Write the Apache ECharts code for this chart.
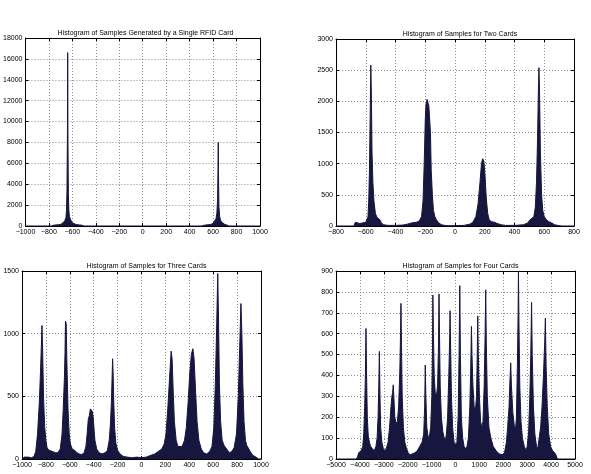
<!DOCTYPE html>
<html><head><meta charset="utf-8">
<script src="https://cdn.jsdelivr.net/npm/echarts/dist/echarts.min.js"></script>
<style>html,body{margin:0;padding:0;background:#fff}#c{width:591px;height:474px}</style>
</head><body><div id="c"></div>
<script>
// ---------- data ----------
const TITLES = [
  'Histogram of Samples Generated by a Single RFID Card',
  'Histogram of Samples for Two Cards',
  'Histogram of Samples for Three Cards',
  'Histogram of Samples for Four Cards'
];
const X_TICKS = [[-1000, 1000, 200], [-800, 800, 200], [-1000, 1000, 200], [-5000, 5000, 1000]];
const Y_TICKS = [[0, 18000, 2000], [0, 3000, 500], [0, 1500, 500], [0, 900, 100]];

const P1_X = [-1000,-780,-760,-720,-700,-680,-665,-655,-650,-646,-642,-640,-638,-634,-630,-625,-615,-600,-590,-570,-540,-520,-500,
  500,520,540,580,600,615,625,632,638,642,644,646,650,656,665,680,700,720,740,1000];
const P1_Y = [0,0,80,120,150,300,500,800,1500,3500,9000,16600,9000,3000,1500,900,600,300,200,150,100,80,0,
  0,60,100,150,250,400,700,1200,2500,5500,8000,5000,1800,900,500,300,150,80,0,0];

const P2_X = [-800,-680,-670,-660,-640,-620,-600,-590,-585,-580,-575,-570,-566,-562,-558,-552,-545,-535,-525,-515,-505,-495,-480,-450,-400,-350,-320,-290,-260,-240,-225,-215,-207,-200,-195,-188,-182,-176,-170,-165,-160,-152,-145,-135,-125,-110,-90,-60,0,60,100,120,140,155,168,178,186,194,202,210,220,230,245,265,285,310,340,400,460,490,500,515,530,540,548,555,560,564,568,574,582,590,600,615,630,650,670,700,720,800];
const P2_Y = [0,0,60,40,40,50,60,80,150,400,900,1800,2580,2100,1200,700,400,200,140,130,100,50,20,10,10,15,30,50,60,80,150,400,1000,1700,1950,2030,2000,1930,1900,1500,900,500,250,150,100,50,20,5,5,10,30,60,150,350,700,1000,1080,1040,800,450,200,100,70,60,40,20,10,10,20,50,90,120,150,300,700,1400,2100,2540,2200,1200,500,250,150,100,70,50,20,5,0,0];

const P3_X = [-1000,-980,-950,-920,-900,-885,-870,-855,-845,-838,-833,-828,-820,-810,-800,-790,-775,-760,-745,-720,-700,-680,-665,-655,-645,-640,-636,-630,-625,-615,-605,-595,-580,-560,-540,-520,-500,-480,-465,-455,-445,-435,-428,-420,-412,-405,-398,-390,-375,-355,-330,-305,-285,-270,-260,-252,-246,-242,-238,-232,-225,-215,-200,-180,-150,-120,-80,-40,0,40,80,110,140,170,190,205,220,235,248,256,265,275,290,305,320,340,360,375,390,405,418,430,440,452,465,480,500,520,545,570,590,605,618,630,638,645,652,662,675,690,705,720,735,755,775,795,810,822,832,840,848,858,870,880,895,910,930,950,965,980,1000];
const P3_Y = [0,15,15,10,20,60,200,450,700,900,1065,900,500,250,150,90,70,80,60,50,50,80,200,400,650,850,1100,1080,800,400,200,120,80,70,50,40,35,50,100,200,320,350,400,410,380,340,250,150,80,50,40,50,70,150,280,450,650,800,700,450,250,130,70,40,20,15,10,15,10,15,30,40,60,80,120,200,400,650,860,800,550,300,150,100,90,100,150,250,450,700,840,880,800,550,300,150,80,50,40,60,100,250,600,1100,1480,1100,600,300,150,110,100,70,50,60,90,200,500,900,1240,1000,600,300,150,110,100,60,30,20,10,0,0];

const P4_X = [-5000,-4150,-4100,-4050,-3950,-3880,-3840,-3800,-3770,-3745,-3720,-3690,-3650,-3600,-3550,-3480,-3400,-3330,-3280,-3240,-3210,-3185,-3160,-3130,-3080,-3020,-2960,-2900,-2820,-2760,-2700,-2660,-2630,-2605,-2580,-2540,-2480,-2430,-2380,-2330,-2300,-2282,-2260,-2230,-2180,-2120,-2050,-1980,-1900,-1800,-1700,-1600,-1500,-1400,-1330,-1290,-1265,-1240,-1200,-1150,-1100,-1040,-990,-960,-946,-925,-890,-850,-800,-750,-710,-690,-670,-640,-590,-530,-470,-420,-380,-330,-280,-240,-228,-205,-170,-120,-60,0,60,110,150,180,205,245,300,360,420,480,540,600,640,667,690,730,780,830,880,910,931,955,1000,1050,1100,1150,1200,1240,1264,1290,1330,1400,1480,1580,1700,1820,1950,2050,2130,2180,2240,2280,2310,2340,2400,2460,2510,2550,2590,2620,2634,2655,2690,2740,2800,2880,2950,3000,3060,3110,3150,3183,3210,3260,3320,3390,3440,3500,3560,3620,3680,3730,3761,3790,3840,3900,3980,4060,4150,4220,4260,5000];
const P4_Y = [0,0,10,30,40,60,120,250,400,625,400,200,110,80,60,50,40,60,100,200,350,515,300,150,80,50,40,50,80,150,250,300,320,355,300,200,170,180,250,420,600,745,550,300,150,80,50,30,20,25,30,40,60,80,120,250,450,300,150,110,100,150,300,550,785,600,400,320,300,350,550,790,600,350,200,130,100,90,120,200,400,600,710,550,300,150,80,70,80,200,500,830,500,200,100,60,50,60,100,250,450,635,500,350,250,230,300,500,685,500,300,180,150,180,350,600,810,550,300,150,100,60,40,25,20,30,80,150,250,380,460,350,220,160,140,200,450,700,900,650,350,180,100,60,40,60,130,300,500,750,500,250,120,60,50,100,150,250,400,550,675,450,250,120,60,40,30,15,0,0];

// ---------- layout / style ----------
const XS = [P1_X, P2_X, P3_X, P4_X];
const YS = [P1_Y, P2_Y, P3_Y, P4_Y];
const GRIDS = [
  {left: 21, top: 38, width: 239, height: 188},
  {left: 336, top: 39, width: 238, height: 187},
  {left: 22, top: 271, width: 239, height: 188},
  {left: 336, top: 271, width: 239, height: 188}
];
const FILL = '#16163f';
const FONT = 'Liberation Sans';
const fmt = v => String(v).replace('-', '\u2212');

const option = {animation: false, backgroundColor: '#fff', title: [], grid: [], xAxis: [], yAxis: [], series: []};
GRIDS.forEach((g, i) => {
  option.grid.push(Object.assign({containLabel: false}, g));
  option.title.push({
    text: TITLES[i], left: g.left + g.width / 2, top: g.top - 13, textAlign: 'center',
    textStyle: {fontFamily: FONT, fontSize: 7, fontWeight: 'normal', color: '#000'}
  });
  const [xmin, xmax, xi] = X_TICKS[i];
  const [ymin, ymax, yi] = Y_TICKS[i];
  const line = {show: true, onZero: false, lineStyle: {color: '#000', width: 1}};
  const tick = {show: true, inside: true, length: 3, lineStyle: {color: '#000', width: 1}};
  const split = {show: true, lineStyle: {color: '#6e6e6e', width: 0.8, type: [1, 2]}};
  const lab = {fontFamily: FONT, fontSize: 7, color: '#000', margin: 3, formatter: fmt};
  option.xAxis.push({type: 'value', gridIndex: i, min: xmin, max: xmax, interval: xi, position: 'bottom',
    axisLine: line, axisTick: tick, splitLine: split, axisLabel: lab});
  option.xAxis.push({type: 'value', gridIndex: i, min: xmin, max: xmax, interval: xi, position: 'top',
    axisLine: line, axisTick: tick, splitLine: {show: false}, axisLabel: {show: false}});
  option.yAxis.push({type: 'value', gridIndex: i, min: ymin, max: ymax, interval: yi, position: 'left',
    axisLine: line, axisTick: tick, splitLine: split, axisLabel: lab});
  option.yAxis.push({type: 'value', gridIndex: i, min: ymin, max: ymax, interval: yi, position: 'right',
    axisLine: line, axisTick: tick, splitLine: {show: false}, axisLabel: {show: false}});
  option.series.push({
    type: 'line', xAxisIndex: 2 * i, yAxisIndex: 2 * i, showSymbol: false, symbol: 'none',
    data: XS[i].map((x, k) => [x, YS[i][k]]),
    lineStyle: {color: FILL, width: 1}, areaStyle: {color: FILL, opacity: 1}, z: 1
  });
});
const chart = echarts.init(document.getElementById('c'), null, {renderer: 'canvas'});
chart.setOption(option);
</script></body></html>
